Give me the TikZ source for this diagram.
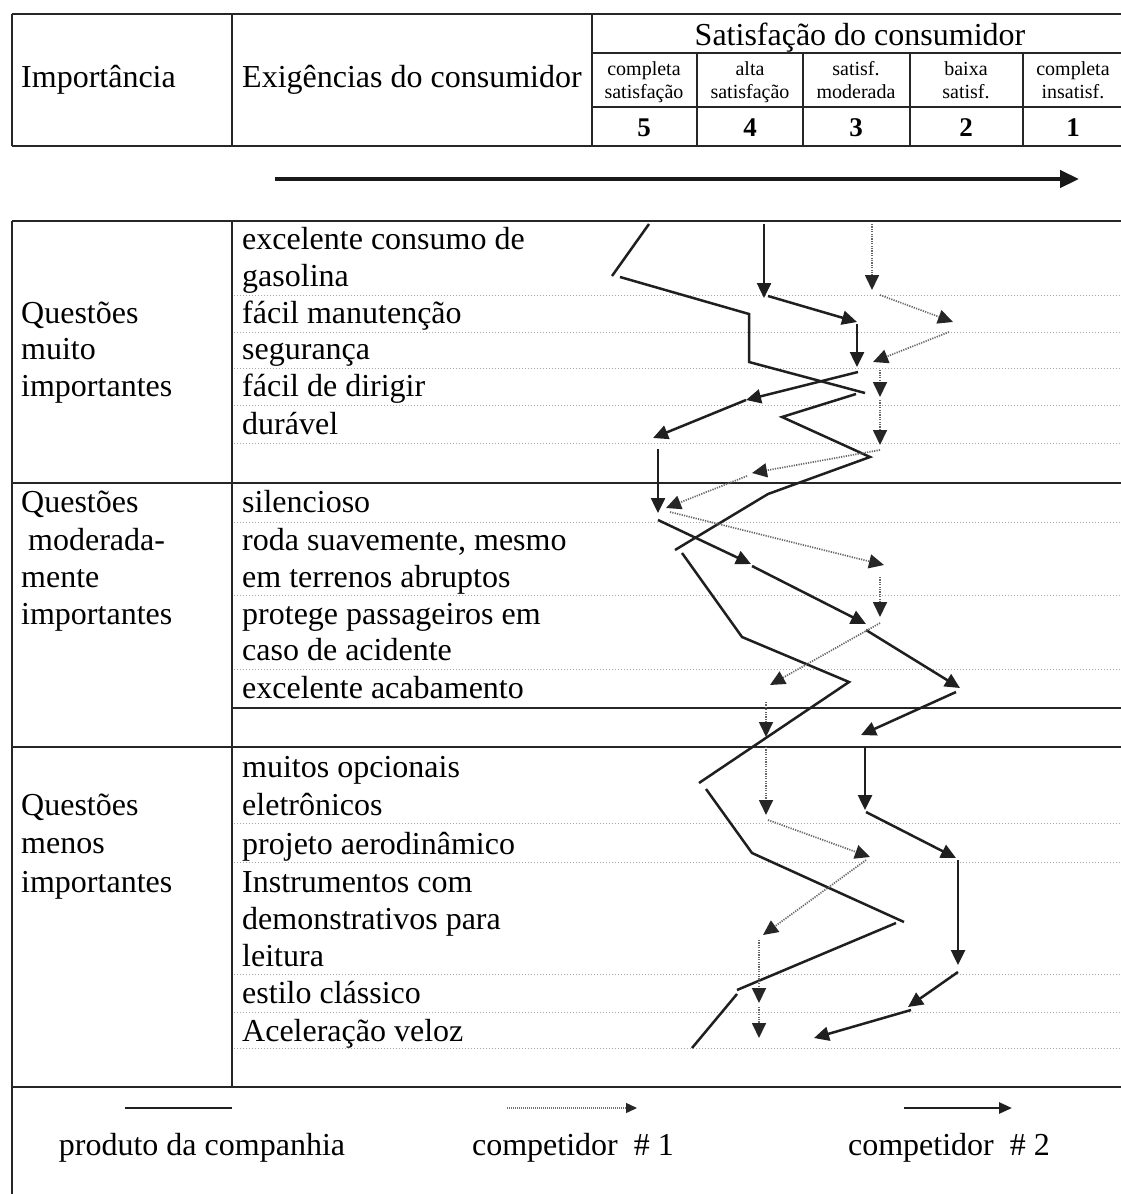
\documentclass[tikz,border=0pt]{standalone}
\usepackage{fontspec}
\setmainfont{Liberation Serif}
\usetikzlibrary{arrows.meta}
\begin{document}
\begin{tikzpicture}[x=1pt,y=-1pt,
  frame/.style={line width=1.5pt, draw=black!85},
  rowline/.style={line width=0.9pt, draw=black!35, dash pattern=on 1.2pt off 1.8pt},
  txt/.style={anchor=base west, inner sep=0pt, font=\fontsize{32}{37}\selectfont},
  legtxt/.style={anchor=base, inner sep=0pt, font=\fontsize{32}{37}\selectfont},
  small/.style={anchor=base, inner sep=0pt, font=\fontsize{20}{23}\selectfont},
  num/.style={anchor=base, inner sep=0pt, font=\fontsize{27}{30}\selectfont\bfseries},
  own/.style={line width=2.5pt, draw=black!88, line join=miter},
  rivalB/.style={line width=2.5pt, draw=black!88, -{Triangle[length=15pt,width=14pt]}},
  rivalA/.style={line width=1.7pt, draw=black!60, dash pattern=on 1.2pt off 1.2pt,
    -{Triangle[length=15pt,width=14pt,color=black!85]}},
]
\useasboundingbox (0,0) rectangle (1121,1194);
\fill[white] (0,0) rectangle (1121,1194);

% ---------- header table ----------
\draw[frame] (12,14) -- (1125,14);
\draw[frame] (12,146) -- (1125,146);
\draw[frame] (12,14) -- (12,146);
\draw[frame] (232,14) -- (232,146);
\draw[frame] (592,14) -- (592,146);
\draw[frame] (592,53) -- (1125,53);
\draw[frame] (592,107) -- (1125,107);
\foreach \x in {697,803,910,1023} \draw[frame] (\x,53) -- (\x,146);

\node[txt] (himp) at (21,87) {Importância};
\node[txt] (hexi) at (242,87) {Exigências do consumidor};
\node[legtxt] (hsat) at (860,45) {Satisfação do consumidor};

\node[small] (s5a) at (644,75) {completa};
\node[small] (s5b) at (644,98) {satisfação};
\node[small] (s4a) at (750,75) {alta};
\node[small] (s4b) at (750,98) {satisfação};
\node[small] (s3a) at (856,75) {satisf.};
\node[small] (s3b) at (856,98) {moderada};
\node[small] (s2a) at (966,75) {baixa};
\node[small] (s2b) at (966,98) {satisf.};
\node[small] (s1a) at (1073,75) {completa};
\node[small] (s1b) at (1073,98) {insatisf.};

\node[num] (n5) at (644,136) {5};
\node[num] (n4) at (750,136) {4};
\node[num] (n3) at (856,136) {3};
\node[num] (n2) at (966,136) {2};
\node[num] (n1) at (1073,136) {1};

% direction arrow
\coordinate (dirA) at (275,179);
\coordinate (dirB) at (1079,179);
\draw[line width=4.5pt, black!90, -{Triangle[length=19pt,width=17pt]}] (dirA) -- (dirB);

% ---------- main table ----------
\draw[frame] (12,221) -- (1125,221);
\draw[frame] (12,221) -- (12,1200);
\draw[frame] (232,221) -- (232,1087);
\draw[frame] (12,483) -- (1125,483);
\draw[frame] (232,708) -- (1125,708);
\draw[frame] (12,747) -- (1125,747);
\draw[frame] (12,1087) -- (1125,1087);

\foreach \y in {295,332,368,405,443,522,595,669,823,862,974,1012,1048}
  \draw[rowline] (234,\y) -- (1125,\y);

% importance groups
\node[txt] (g1a) at (21,323) {Questões};
\node[txt] (g1b) at (21,359) {muito};
\node[txt] (g1c) at (21,396) {importantes};

\node[txt] (g2a) at (21,512) {Questões};
\node[txt] (g2b) at (28,550) {moderada-};
\node[txt] (g2c) at (21,587) {mente};
\node[txt] (g2d) at (21,624) {importantes};

\node[txt] (g3a) at (21,815) {Questões};
\node[txt] (g3b) at (21,853) {menos};
\node[txt] (g3c) at (21,892) {importantes};

% requirements
\node[txt] (r1a) at (242,249) {excelente consumo de};
\node[txt] (r1b) at (242,286) {gasolina};
\node[txt] (r2) at (242,323) {fácil manutenção};
\node[txt] (r3) at (242,359) {segurança};
\node[txt] (r4) at (242,396) {fácil de dirigir};
\node[txt] (r5) at (242,434) {durável};

\node[txt] (r6) at (242,512) {silencioso};
\node[txt] (r7a) at (242,550) {roda suavemente, mesmo};
\node[txt] (r7b) at (242,587) {em terrenos abruptos};
\node[txt] (r8a) at (242,624) {protege passageiros em};
\node[txt] (r8b) at (242,660) {caso de acidente};
\node[txt] (r9) at (242,698) {excelente acabamento};

\node[txt] (r10a) at (242,777) {muitos opcionais};
\node[txt] (r10b) at (242,815) {eletrônicos};
\node[txt] (r11) at (242,854) {projeto aerodinâmico};
\node[txt] (r12a) at (242,892) {Instrumentos com};
\node[txt] (r12b) at (242,929) {demonstrativos para};
\node[txt] (r12c) at (242,966) {leitura};
\node[txt] (r13) at (242,1003) {estilo clássico};
\node[txt] (r14) at (242,1041) {Aceleração veloz};

% ---------- company product ----------
\draw[own] (649,224) -- (612,276);
\draw[own] (620,277) -- (749,314) -- (749,362) -- (865,393);
\draw[own] (856,394) -- (782,417) -- (870,457) -- (768,494) -- (675,550);
\draw[own] (682,553) -- (742,637) -- (849,682) -- (699,783);
\draw[own] (706,789) -- (752,853) -- (904,922);
\draw[own] (896,923) -- (737,990);
\draw[own] (737,994) -- (692,1048);

% ---------- competitor 2 ----------
\draw[rivalB] (764,224) -- (764,298);
\draw[rivalB] (768,296) -- (857,322);
\draw[rivalB] (857,324) -- (857,367);
\draw[rivalB] (858,372) -- (746,400);
\draw[rivalB] (746,400) -- (653,438);
\draw[rivalB] (658,449) -- (658,513);
\draw[rivalB] (658,520) -- (751,564);
\draw[rivalB] (752,566) -- (866,624);
\draw[rivalB] (866,630) -- (960,688);
\draw[rivalB] (956,692) -- (861,735);
\draw[rivalB] (865,747) -- (865,810);
\draw[rivalB] (866,812) -- (956,858);
\draw[rivalB] (958,860) -- (958,965);
\draw[rivalB] (958,972) -- (908,1007);
\draw[rivalB] (911,1010) -- (814,1038);

% ---------- competitor 1 ----------
\draw[rivalA] (872,224) -- (872,290);
\draw[rivalA] (880,295) -- (953,322);
\draw[rivalA] (949,332) -- (873,362);
\draw[rivalA] (880,370) -- (880,397);
\draw[rivalA] (880,400) -- (880,445);
\draw[rivalA] (880,450) -- (752,473);
\draw[rivalA] (747,476) -- (666,508);
\draw[rivalA] (670,512) -- (884,565);
\draw[rivalA] (880,577) -- (880,617);
\draw[rivalA] (880,623) -- (770,685);
\draw[rivalA] (766,702) -- (766,737);
\draw[rivalA] (766,747) -- (766,815);
\draw[rivalA] (768,820) -- (870,857);
\draw[rivalA] (866,860) -- (763,935);
\draw[rivalA] (759,940) -- (759,1003);
\draw[rivalA] (759,1007) -- (759,1038);

% ---------- legend ----------
\coordinate (k1a) at (125,1108);
\coordinate (k1b) at (232,1108);
\coordinate (k2a) at (507,1108);
\coordinate (k2b) at (637,1108);
\coordinate (k3a) at (904,1108);
\coordinate (k3b) at (1012,1108);
\draw[line width=2.8pt, black!88] (k1a) -- (k1b);
\draw[line width=1.4pt, draw=black!55, dash pattern=on 1pt off 1pt,
  -{Triangle[length=11pt,width=10pt,color=black!85]}] (k2a) -- (k2b);
\draw[line width=2.6pt, black!88, -{Triangle[length=13pt,width=11pt]}] (k3a) -- (k3b);
\node[legtxt] (l1) at (202,1155) {produto da companhia};
\node[legtxt] (l2) at (573,1155) {competidor~~\# 1};
\node[legtxt] (l3) at (949,1155) {competidor~~\# 2};
\end{tikzpicture}
\end{document}
